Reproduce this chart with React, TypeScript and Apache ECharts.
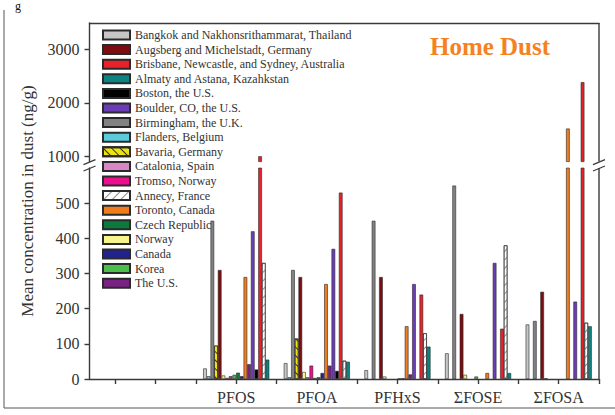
import React, { useEffect, useRef } from "react";
import * as echarts from "echarts";

const categories = ["PFOS", "PFOA", "PFHxS", "ΣFOSE", "ΣFOSA"];
const firstCategoryX = 3;
const xTickValues = [1.5, 2, 2.5, 3, 3.5, 4, 4.5, 5, 5.5, 6, 6.5, 7, 7.5];
const lowerTicks = [0, 100, 200, 300, 400, 500];
const upperTicks = [1000, 2000, 3000];

// values per category: PFOS, PFOA, PFHxS, ΣFOSE, ΣFOSA (ng/g)
const bangkok = [30, 45, 25, 73, 155];
const augsberg = [310, 290, 290, 185, 248];
const brisbane = [1000, 530, 240, 143, 2390];
const almaty = [55, 49, 92, 17, 150];
const boston = [27, 23, null, null, null];
const boulder = [420, 370, 270, 330, 220];
const birmingham = [450, 310, 450, 550, 165];
const flanders = [8, 5, null, null, null];
const bavaria = [95, 115, null, null, null];
const catalonia = [3, 5, null, null, null];
const tromso = [8, 38, null, null, null];
const annecy = [330, 52, 130, 380, 160];
const toronto = [290, 270, 150, 17, 1520];
const czech = [18, 5, 1, null, null];
const norway = [10, 20, 7, 12, 2];
const canada = [8, 17, 2, null, null];
const korea = [12, 3, null, 7, null];
const theUS = [42, 38, 13, null, null];

const seriesDefs: any[] = [
  { name: "Bangkok and Nakhonsrithammarat, Thailand", color: "#c6c6c6", data: bangkok },
  { name: "Augsberg and Michelstadt, Germany", color: "#7a0e10", data: augsberg },
  { name: "Brisbane, Newcastle, and Sydney, Australia", color: "#e8222a", data: brisbane },
  { name: "Almaty and Astana, Kazahkstan", color: "#0c8482", data: almaty },
  { name: "Boston, the U.S.", color: "#000000", data: boston },
  { name: "Boulder, CO, the U.S.", color: "#6a3db6", data: boulder },
  { name: "Birmingham, the U.K.", color: "#828282", data: birmingham },
  { name: "Flanders, Belgium", color: "#5ccadb", data: flanders },
  { name: "Bavaria, Germany", color: "#ece40c", data: bavaria, decal: { color: "#333", rot: Math.PI / 4 } },
  { name: "Catalonia, Spain", color: "#d986c6", data: catalonia },
  { name: "Tromso, Norway", color: "#ec0e8c", data: tromso },
  { name: "Annecy, France", color: "#ffffff", data: annecy, decal: { color: "#8a8a8a", rot: -Math.PI / 4 } },
  { name: "Toronto, Canada", color: "#f07c1e", data: toronto },
  { name: "Czech Republic", color: "#0b7a3c", data: czech },
  { name: "Norway", color: "#f8f48c", data: norway },
  { name: "Canada", color: "#22228e", data: canada },
  { name: "Korea", color: "#4cbe4c", data: korea },
  { name: "The U.S.", color: "#7b2183", data: theUS },
];

const barOrder = [
  "Bangkok and Nakhonsrithammarat, Thailand",
  "Flanders, Belgium",
  "Birmingham, the U.K.",
  "Bavaria, Germany",
  "Augsberg and Michelstadt, Germany",
  "Norway",
  "Catalonia, Spain",
  "Tromso, Norway",
  "Korea",
  "Czech Republic",
  "Canada",
  "Toronto, Canada",
  "The U.S.",
  "Boulder, CO, the U.S.",
  "Boston, the U.S.",
  "Brisbane, Newcastle, and Sydney, Australia",
  "Annecy, France",
  "Almaty and Astana, Kazahkstan",
];

const FONT = "Liberation Serif";
const AXIS_COLOR = "#3a3a3a";

export default function App() {
  const ref = useRef<HTMLDivElement>(null);
  useEffect(() => {
    if (!ref.current) return;
    const chart = echarts.init(ref.current, null, { renderer: "svg" });

    const gridLeft = 89.5;
    const gridWidth = 509.5;
    const upperMin = 900;
    const upperMax = 3500;
    const lowerMax = 600;

    const series: any[] = [];
    barOrder.forEach((name) => {
      const def = seriesDefs.find((d) => d.name === name);
      const itemStyle: any = { color: def.color, borderColor: "#2a2a2a", borderWidth: 0.6 };
      if (def.decal) {
        itemStyle.decal = {
          symbol: "rect",
          symbolSize: 1,
          dashArrayX: [1, 0],
          dashArrayY: [1, 5],
          rotation: def.decal.rot,
          color: def.decal.color,
        };
      }
      const pts = def.data.map((v: number | null, i: number) => [firstCategoryX + i, v]);
      const upperPts = def.data.map((v: number | null, i: number) => [
        firstCategoryX + i,
        v != null && v > upperMin ? v : null,
      ]);
      series.push({
        type: "bar",
        name,
        xAxisIndex: 1,
        yAxisIndex: 1,
        data: pts,
        itemStyle,
        barGap: "0%",
        barCategoryGap: "18%",
        clip: true,
      });
      series.push({
        type: "bar",
        name,
        xAxisIndex: 0,
        yAxisIndex: 0,
        data: upperPts,
        itemStyle,
        barGap: "0%",
        barCategoryGap: "18%",
        clip: true,
      });
    });

    const lineStyle = { color: AXIS_COLOR, width: 1.4 };
    const breakY1 = 161.6;
    const breakY2 = 168;
    const rightX = gridLeft + gridWidth;
    const plain = (v: number) => String(v);

    chart.setOption({
      animation: false,
      backgroundColor: "#ffffff",
      grid: [
        { left: gridLeft, top: 23, width: gridWidth, height: breakY1 - 23, outerBoundsMode: "none" },
        { left: gridLeft, top: breakY2, width: gridWidth, height: 379 - breakY2, outerBoundsMode: "none" },
      ],
      xAxis: [
        {
          type: "value",
          gridIndex: 0,
          min: 1.18,
          max: 7.5,
          position: "top",
          axisLine: { show: true, onZero: false, lineStyle },
          axisTick: { show: false },
          axisLabel: { show: false },
          splitLine: { show: false },
        },
        {
          type: "value",
          gridIndex: 1,
          min: 1.18,
          max: 7.5,
          position: "bottom",
          axisLine: { show: true, onZero: false, lineStyle },
          axisTick: { show: true, customValues: xTickValues, length: 5, lineStyle },
          axisLabel: {
            show: true,
            customValues: categories.map((_, i) => firstCategoryX + i),
            formatter: (v: number) => categories[Math.round(v) - firstCategoryX] ?? "",
            fontFamily: FONT,
            fontSize: 16,
            color: "#333",
            margin: 10,
          },
          splitLine: { show: false },
        },
      ],
      yAxis: [
        {
          type: "value",
          gridIndex: 0,
          min: upperMin,
          max: upperMax,
          axisLine: { show: true, onZero: false, lineStyle },
          axisTick: { show: true, customValues: upperTicks, length: 5, lineStyle },
          axisLabel: {
            customValues: upperTicks,
            formatter: plain,
            fontFamily: FONT,
            fontSize: 16,
            color: "#333",
            margin: 10,
          },
          splitLine: { show: false },
        },
        {
          type: "value",
          gridIndex: 1,
          min: 0,
          max: lowerMax,
          axisLine: { show: true, onZero: false, lineStyle },
          axisTick: { show: true, customValues: lowerTicks, length: 5, lineStyle },
          axisLabel: {
            customValues: lowerTicks,
            formatter: plain,
            fontFamily: FONT,
            fontSize: 16,
            color: "#333",
            margin: 10,
          },
          splitLine: { show: false },
        },
      ],
      legend: {
        orient: "vertical",
        left: 97,
        top: 24,
        itemWidth: 27,
        itemHeight: 9,
        itemGap: 2.6,
        icon: "rect",
        data: seriesDefs.map((d) => d.name),
        textStyle: { fontFamily: FONT, fontSize: 12, color: "#333", lineHeight: 12 },
      },
      graphic: [
        // right frame
        { type: "line", shape: { x1: rightX, y1: 23, x2: rightX, y2: breakY1 }, style: { stroke: AXIS_COLOR, lineWidth: 1.4 } },
        { type: "line", shape: { x1: rightX, y1: breakY2, x2: rightX, y2: 379 }, style: { stroke: AXIS_COLOR, lineWidth: 1.4 } },
        // break marks left
        { type: "line", shape: { x1: gridLeft - 6, y1: breakY1 + 3, x2: gridLeft + 6, y2: breakY1 - 2 }, style: { stroke: AXIS_COLOR, lineWidth: 1.2 } },
        { type: "line", shape: { x1: gridLeft - 6, y1: breakY2 + 3, x2: gridLeft + 6, y2: breakY2 - 2 }, style: { stroke: AXIS_COLOR, lineWidth: 1.2 } },
        // break marks right
        { type: "line", shape: { x1: rightX - 6, y1: breakY1 + 3, x2: rightX + 6, y2: breakY1 - 2 }, style: { stroke: AXIS_COLOR, lineWidth: 1.2 } },
        { type: "line", shape: { x1: rightX - 6, y1: breakY2 + 3, x2: rightX + 6, y2: breakY2 - 2 }, style: { stroke: AXIS_COLOR, lineWidth: 1.2 } },
        // outer figure border
        { type: "line", shape: { x1: 4, y1: 10, x2: 4, y2: 408 }, style: { stroke: "#555", lineWidth: 1 } },
        { type: "line", shape: { x1: 4, y1: 408, x2: 615, y2: 408 }, style: { stroke: "#555", lineWidth: 1 } },
        {
          type: "text",
          x: 15,
          y: 0,
          style: { text: "g", font: `12px "${FONT}"`, fill: "#111" },
        },
        {
          type: "text",
          x: 27,
          y: 201,
          rotation: Math.PI / 2,
          style: {
            text: "Mean concentration in dust (ng/g)",
            font: `17px "${FONT}"`,
            fill: "#333",
            align: "center",
            verticalAlign: "middle",
          },
        },
        {
          type: "text",
          x: 490,
          y: 46,
          style: {
            text: "Home Dust",
            font: `bold 25px "${FONT}"`,
            fill: "#f5821f",
            align: "center",
            verticalAlign: "middle",
          },
        },
      ],
      series,
    });
    return () => chart.dispose();
  }, []);
  return (
    <div
      ref={ref}
      style={{ position: "fixed", left: 0, top: 0, width: 615, height: 415, background: "#fff" }}
    />
  );
}
